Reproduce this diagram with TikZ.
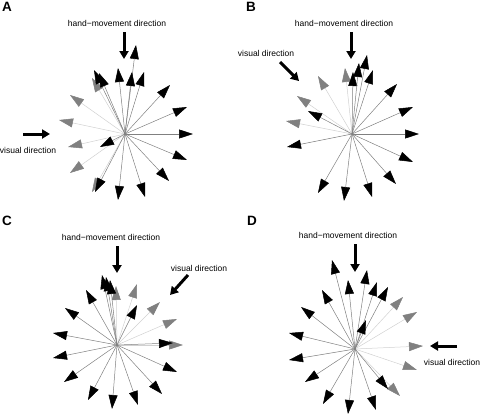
\documentclass[tikz,border=0pt]{standalone}
\usepackage{fontspec}
\setmainfont{Liberation Sans}
\usetikzlibrary{arrows.meta}

\tikzset{
  vec/.style={draw=black!50,line width=0.5pt,-{Triangle[length=14pt,width=9pt,color=black]}},
  gvec/.style={draw=black!18,line width=0.5pt,-{Triangle[length=14pt,width=9pt,color=black!50]}},
  hand/.style={line width=3pt,-{Triangle[length=8pt,width=9pt]}},
  lab/.style={font=\fontsize{8.5}{10}\selectfont,inner sep=0pt},
  panel/.style={font=\bfseries\fontsize{13.5}{15}\selectfont,inner sep=0pt,anchor=north west}
}

\begin{document}
\begin{tikzpicture}[x=1pt,y=-1pt]
    \useasboundingbox (0,0) rectangle (480,415);
    % Panel A
    \node[panel] (pA) at (2,2) {A};
    \coordinate (cA) at (125,134);
    \foreach \x/\y [count=\i] in {92/78,92/192,70/173,68/147,59/120,70/95}
      {\coordinate (gA\i) at (\x,\y); \draw[gvec] (cA) -- (gA\i);}
    \foreach \x/\y [count=\i] in {136/45,94/70,99/73,118/68,132/72,144/72,170/85,187/107,193/134,187/160,169/181,145/197,118/200,95/192,100/147}
      {\coordinate (tA\i) at (\x,\y); \draw[vec] (cA) -- (tA\i);}
    \node[lab] (handA) at (117,23) {hand−movement direction};
    \coordinate (hA1) at (124,32); \coordinate (hA2) at (124,59);
    \draw[hand] (hA1) -- (hA2);
    \node[lab] (visA) at (28,150) {visual direction};
    \coordinate (vA1) at (23,134); \coordinate (vA2) at (50,134);
    \draw[hand] (vA1) -- (vA2);

    % Panel B
    \node[panel] (pB) at (246,2) {B};
    \coordinate (cB) at (352,134);
    \foreach \x/\y [count=\i] in {345/68,318/76,297/96,286/121}
      {\coordinate (gB\i) at (\x,\y); \draw[gvec] (cB) -- (gB\i);}
    \foreach \x/\y [count=\i] in {353/72,359/63,367/55,373/70,308/111,287/147,318/193,344/201,372/197,396/184,413/162,419/134,413/107,397/84}
      {\coordinate (tB\i) at (\x,\y); \draw[vec] (cB) -- (tB\i);}
    \node[lab] (handB) at (344,23) {hand−movement direction};
    \coordinate (hB1) at (351,32); \coordinate (hB2) at (351,59);
    \draw[hand] (hB1) -- (hB2);
    \node[lab] (visB) at (266,53) {visual direction};
    \coordinate (vB1) at (280,62); \coordinate (vB2) at (299,81);
    \draw[hand] (vB1) -- (vB2);

    % Panel C
    \node[panel] (pC) at (2,216) {C};
    \coordinate (cC) at (117,345);
    \foreach \x/\y [count=\i] in {116/286,137/284,160/302,177/319,183/345}
      {\coordinate (gC\i) at (\x,\y); \draw[gvec] (cC) -- (gC\i);}
    \foreach \x/\y [count=\i] in {102/275,106/277,110/280,137/305,173/343,177/372,162/394,138/405,112/409,88/400,64/382,53/358,53/333,65/308,86/290}
      {\coordinate (tC\i) at (\x,\y); \draw[vec] (cC) -- (tC\i);}
    \node[lab] (handC) at (111,237) {hand−movement direction};
    \coordinate (hC1) at (117,246); \coordinate (hC2) at (117,273);
    \draw[hand] (hC1) -- (hC2);
    \node[lab] (visC) at (199,268) {visual direction};
    \coordinate (vC1) at (188,275); \coordinate (vC2) at (170,295);
    \draw[hand] (vC1) -- (vC2);

    % Panel D
    \node[panel] (pD) at (247,216) {D};
    \coordinate (cD) at (355,349);
    \foreach \x/\y [count=\i] in {403/297,417/312,423/346,417/370,400/396}
      {\coordinate (gD\i) at (\x,\y); \draw[gvec] (cD) -- (gD\i);}
    \foreach \x/\y [count=\i] in {332/260,348/280,367/270,377/282,388/287,388/389,376/410,348/414,323/404,305/382,289/360,289/333,301/307,322/290,366/320}
      {\coordinate (tD\i) at (\x,\y); \draw[vec] (cD) -- (tD\i);}
    \node[lab] (handD) at (348,235) {hand−movement direction};
    \coordinate (hD1) at (355,244); \coordinate (hD2) at (355,272);
    \draw[hand] (hD1) -- (hD2);
    \node[lab] (visD) at (452,362) {visual direction};
    \coordinate (vD1) at (457,346); \coordinate (vD2) at (430,346);
    \draw[hand] (vD1) -- (vD2);
\end{tikzpicture}
\end{document}
